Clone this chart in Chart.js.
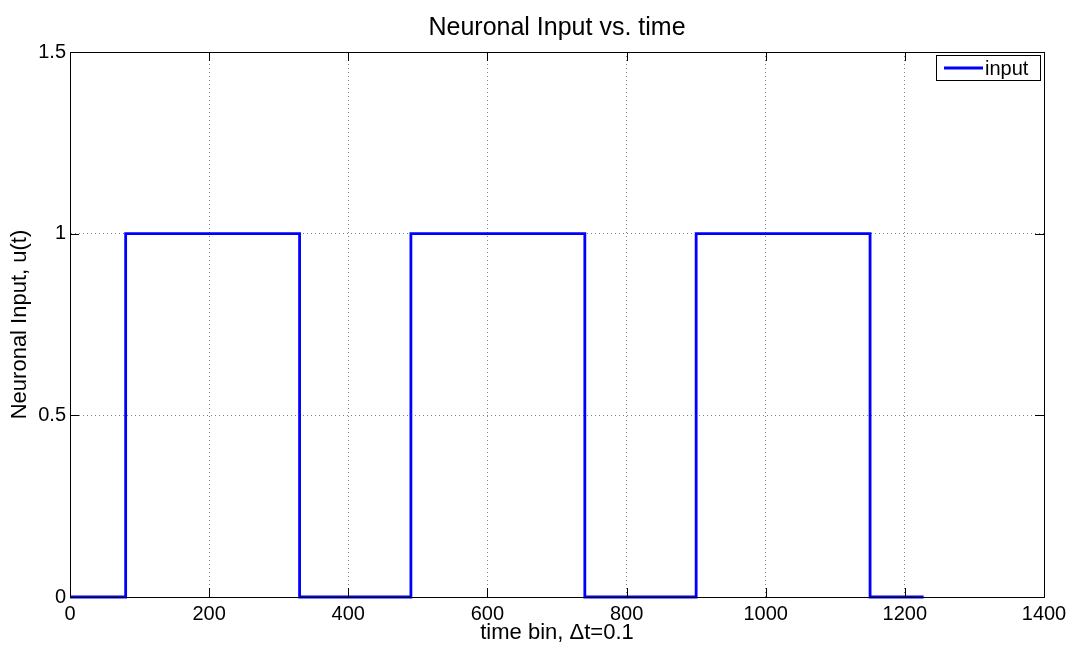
<!DOCTYPE html>
<html>
<head>
<meta charset="utf-8">
<script src="https://cdn.jsdelivr.net/npm/chart.js@4/dist/chart.umd.min.js"></script>
<style>
  html, body { margin: 0; padding: 0; background: #fff; }
  #wrap { width: 1078px; height: 648px; }
</style>
</head>
<body>
<div id="wrap"><canvas id="c" width="1078" height="648"></canvas></div>
<script>
// Square-pulse input: on at each rise time, off at each fall time
const riseTimes = [80, 490, 900];
const fallTimes = [330, 740, 1150];
const startTime = 0;
const endTime = 1227;
const onLevel = 1;
const offLevel = 0;

const xTicks = [0, 200, 400, 600, 800, 1000, 1200, 1400];
const yTicks = [0, 0.5, 1, 1.5];

// Build the step trace from the pulse edges
const points = [{ x: startTime, y: offLevel }];
for (let i = 0; i < riseTimes.length; i++) {
  points.push({ x: riseTimes[i], y: offLevel });
  points.push({ x: riseTimes[i], y: onLevel });
  points.push({ x: fallTimes[i], y: onLevel });
  points.push({ x: fallTimes[i], y: offLevel });
}
points.push({ x: endTime, y: offLevel });

const FONT = "'Liberation Sans', Arial, Helvetica, sans-serif";

// Inward ticks on all four sides, the axes box and the legend
const boxTicks = {
  id: 'boxTicks',
  afterDatasetsDraw(chart) {
    const { ctx, chartArea: a, scales } = chart;
    ctx.save();
    ctx.strokeStyle = '#000';
    ctx.lineWidth = 1;
    const L = 9;
    ctx.beginPath();
    xTicks.forEach(v => {
      const px = Math.round(scales.x.getPixelForValue(v)) + 0.5;
      ctx.moveTo(px, a.bottom); ctx.lineTo(px, a.bottom - L);
      ctx.moveTo(px, a.top); ctx.lineTo(px, a.top + L);
    });
    yTicks.forEach(v => {
      const py = Math.round(scales.y.getPixelForValue(v)) + 0.5;
      ctx.moveTo(a.left, py); ctx.lineTo(a.left + L, py);
      ctx.moveTo(a.right, py); ctx.lineTo(a.right - L, py);
    });
    ctx.stroke();
    // solid box
    ctx.strokeRect(Math.round(a.left) + 0.5, Math.round(a.top) + 0.5,
                   Math.round(a.right - a.left), Math.round(a.bottom - a.top));
    ctx.restore();
  },
  afterDraw(chart) {
    const { ctx, chartArea: a } = chart;
    const ds = chart.data.datasets[0];
    ctx.save();
    const w = 104, h = 25;
    const x0 = Math.round(a.right) - 4 - w, y0 = Math.round(a.top) + 3;
    ctx.fillStyle = '#fff';
    ctx.fillRect(x0, y0, w, h);
    ctx.strokeStyle = '#000';
    ctx.lineWidth = 1;
    ctx.strokeRect(x0 + 0.5, y0 + 0.5, w, h);
    ctx.strokeStyle = ds.borderColor;
    ctx.lineWidth = ds.borderWidth;
    ctx.beginPath();
    ctx.moveTo(x0 + 8, y0 + 13);
    ctx.lineTo(x0 + 47, y0 + 13);
    ctx.stroke();
    ctx.fillStyle = '#000';
    ctx.font = '20px ' + FONT;
    ctx.textBaseline = 'middle';
    ctx.textAlign = 'left';
    ctx.fillText(ds.label, x0 + 49, y0 + 14);
    ctx.restore();
  }
};

const gridStyle = {
  color: 'rgba(0,0,0,0.5)',
  lineWidth: 1,
  drawTicks: false
};

new Chart(document.getElementById('c'), {
  type: 'line',
  data: {
    datasets: [{
      label: 'input',
      data: points,
      borderColor: '#0000ff',
      borderWidth: 2.8,
      pointRadius: 0,
      tension: 0,
      fill: false,
      clip: false
    }]
  },
  options: {
    responsive: false,
    animation: false,
    devicePixelRatio: 1,
    layout: { padding: { top: 0, right: 34, left: 0, bottom: 0 } },
    plugins: {
      legend: { display: false },
      tooltip: { enabled: false },
      title: {
        display: true,
        text: 'Neuronal Input vs. time',
        color: '#000',
        fullSize: false,
        font: { family: FONT, size: 25, weight: 'normal' },
        padding: { top: 13, bottom: 9 }
      }
    },
    scales: {
      x: {
        type: 'linear',
        min: 0, max: 1400,
        afterBuildTicks: s => { s.ticks = xTicks.map(v => ({ value: v })); },
        afterFit: s => { s.height = 51; },
        border: { display: true, color: '#000', width: 1, dash: [1, 3] },
        grid: gridStyle,
        ticks: {
          color: '#000',
          padding: 5,
          maxRotation: 0,
          font: { family: FONT, size: 20 },
          callback: v => String(v)
        },
        title: {
          display: true,
          text: 'time bin, \u0394t=0.1',
          color: '#000',
          font: { family: FONT, size: 22 },
          padding: { top: 0, bottom: 2 }
        }
      },
      y: {
        type: 'linear',
        min: 0, max: 1.5,
        afterBuildTicks: s => { s.ticks = yTicks.map(v => ({ value: v })); },
        afterFit: s => { s.width = 70; },
        border: { display: true, color: '#000', width: 1, dash: [1, 3] },
        grid: gridStyle,
        ticks: {
          color: '#000',
          padding: 4,
          font: { family: FONT, size: 20 },
          callback: v => String(v)
        },
        title: {
          display: true,
          text: 'Neuronal Input, u(t)',
          color: '#000',
          font: { family: FONT, size: 22 },
          padding: { top: 7, bottom: 0 }
        }
      }
    }
  },
  plugins: [boxTicks]
});
</script>
</body>
</html>
